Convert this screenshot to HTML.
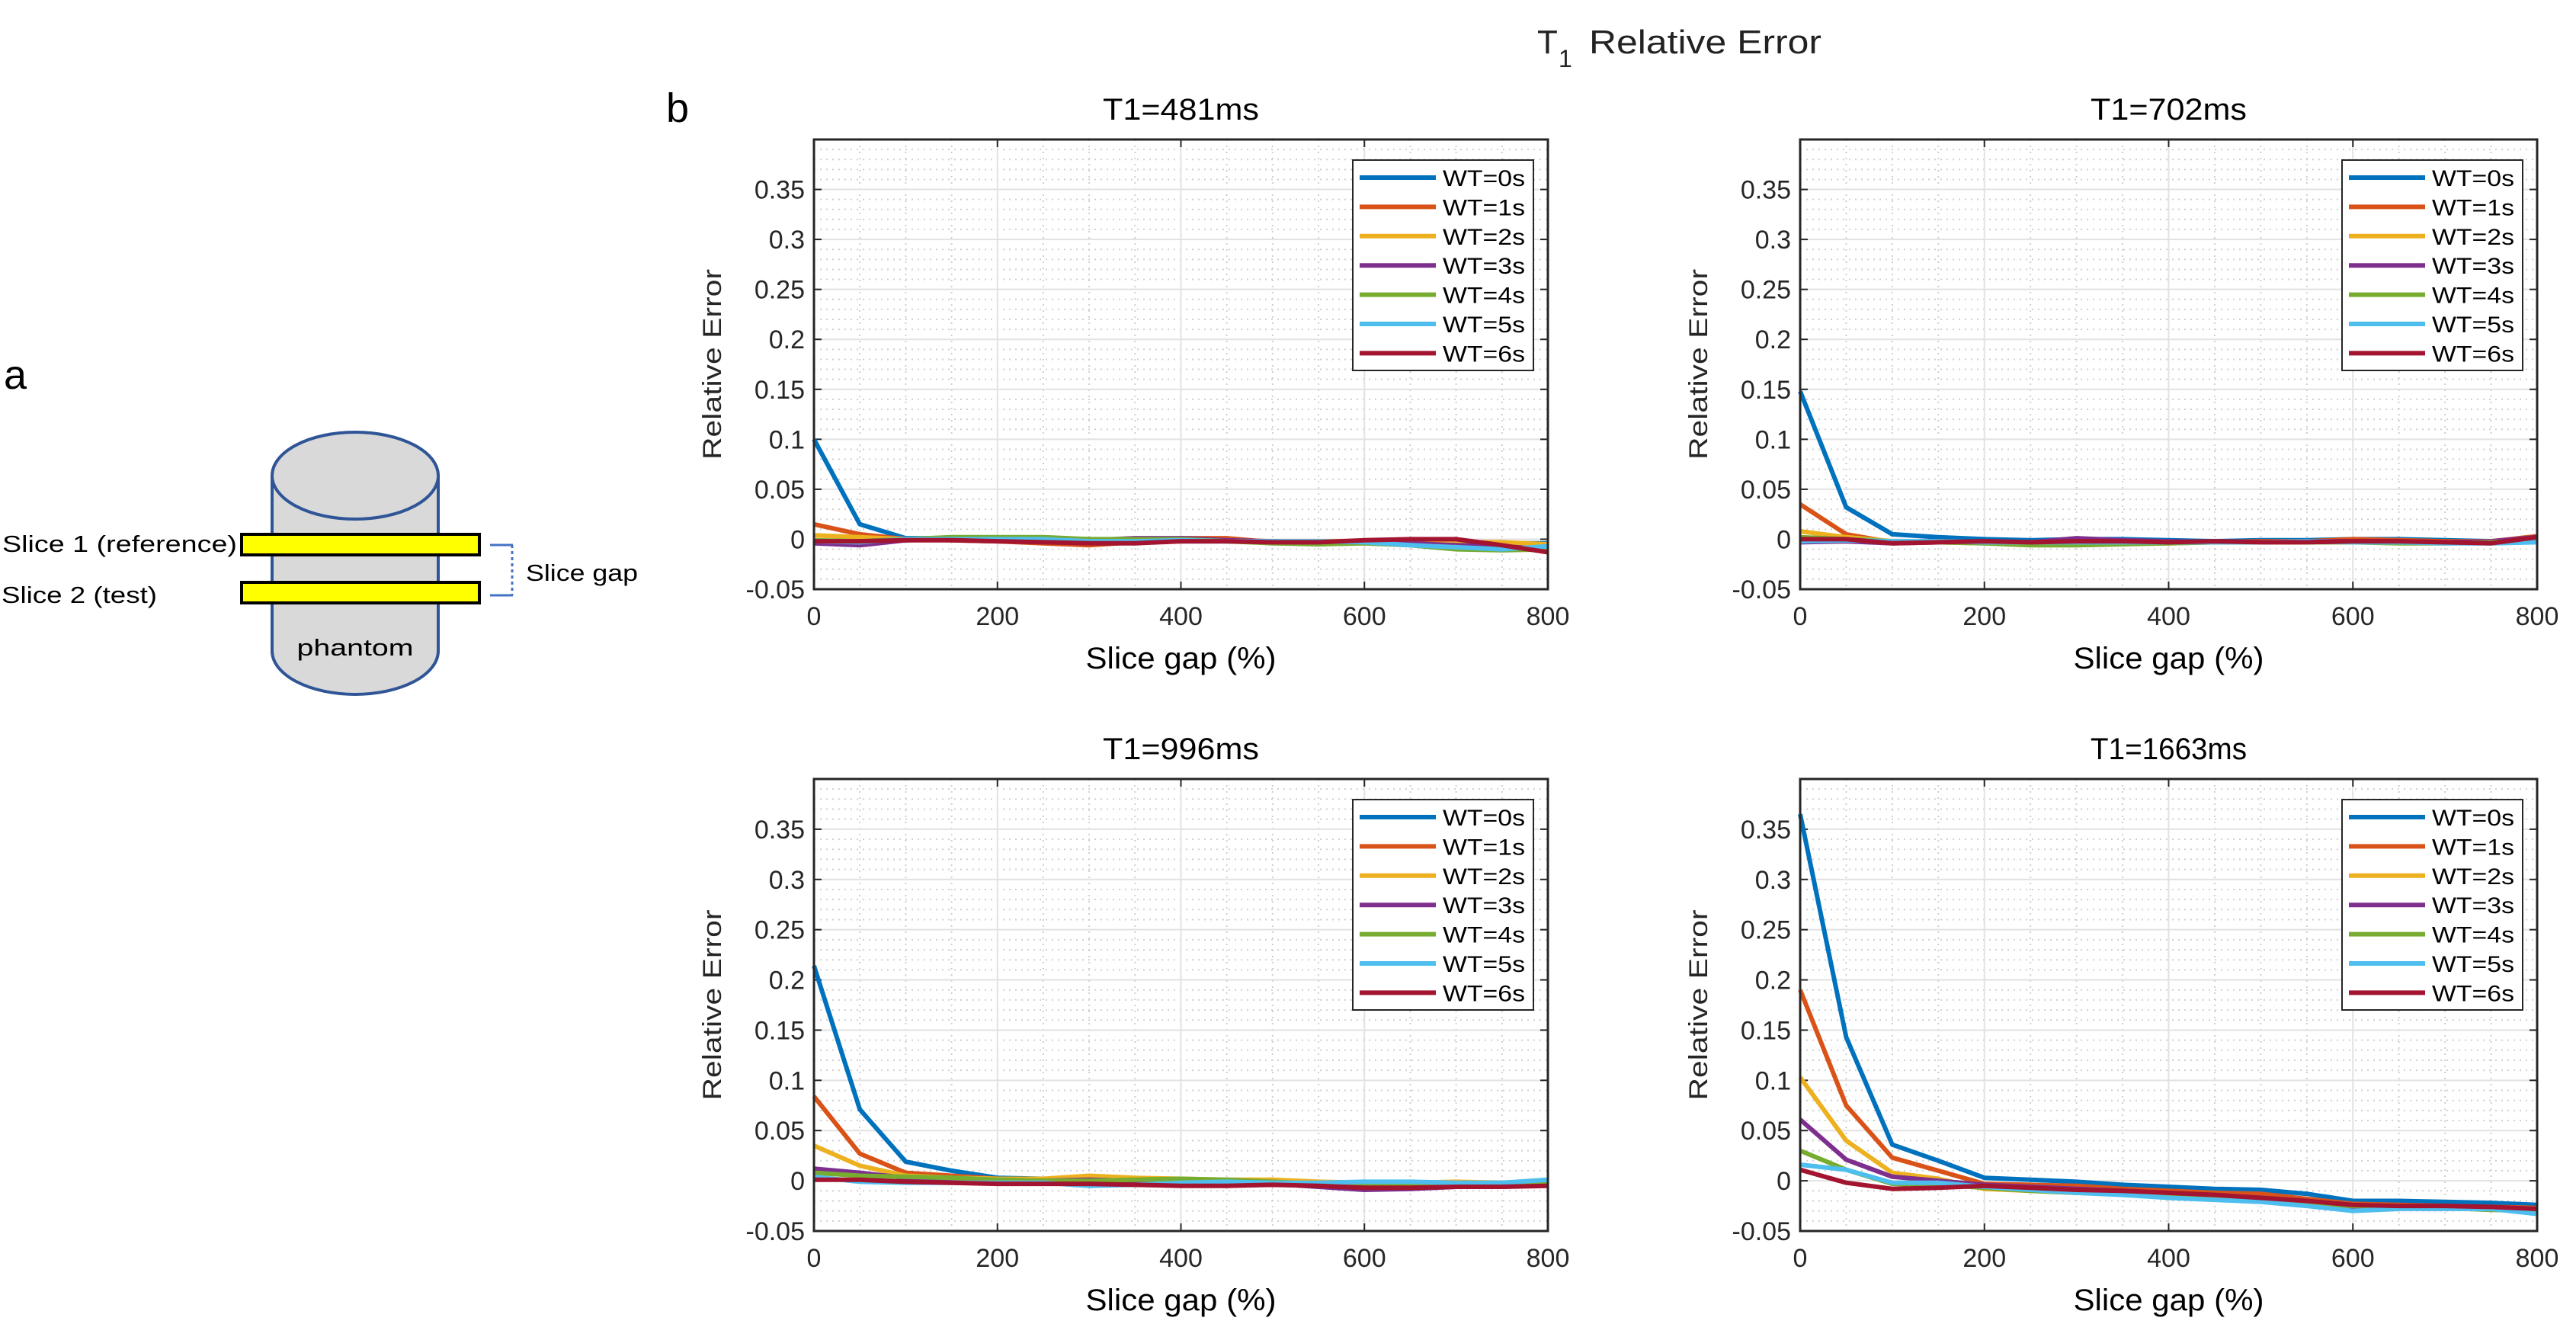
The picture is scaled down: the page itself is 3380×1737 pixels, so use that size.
<!DOCTYPE html>
<html><head><meta charset="utf-8"><style>
html,body{margin:0;padding:0;background:#fff;}
svg{display:block;font-family:"Liberation Sans",sans-serif;}
</style></head><body>
<svg id="fig" width="3380" height="1737" viewBox="0 0 3380 1737" xmlns="http://www.w3.org/2000/svg">
<g id="diagram">
<text x="5" y="510" font-size="54" fill="#000">a</text>
<path d="M357,624 L357,854 A109,57 0 0 0 575,854 L575,624" fill="#d9d9d9" stroke="#2f5597" stroke-width="4"/>
<ellipse cx="466" cy="624" rx="109" ry="57" fill="#d9d9d9" stroke="#2f5597" stroke-width="4"/>
<rect x="317" y="701" width="312" height="27" fill="#ffff00" stroke="#000" stroke-width="4"/>
<rect x="317" y="764" width="312" height="27" fill="#ffff00" stroke="#000" stroke-width="4"/>
<path d="M643,715 L673,715 M643,781 L673,781" stroke="#4472c4" stroke-width="3"/>
<path d="M672,715 L672,781" stroke="#4472c4" stroke-width="3" stroke-dasharray="4,4"/>
<text x="3" y="724" font-size="31" textLength="308" lengthAdjust="spacingAndGlyphs">Slice 1 (reference)</text>
<text x="2" y="791" font-size="31" textLength="204" lengthAdjust="spacingAndGlyphs">Slice 2 (test)</text>
<text x="690" y="762" font-size="31" textLength="147" lengthAdjust="spacingAndGlyphs">Slice gap</text>
<text x="466" y="860" font-size="31" text-anchor="middle" textLength="153" lengthAdjust="spacingAndGlyphs">phantom</text>
</g>
<text x="874" y="160" font-size="54">b</text>
<g>
<text x="2017" y="70" font-size="44" fill="#222">T</text>
<text x="2045" y="88" font-size="32" fill="#222">1</text>
<text x="2085" y="70" font-size="44" fill="#222" textLength="305" lengthAdjust="spacingAndGlyphs">Relative Error</text>
</g>
</svg>
<script>
const xValues = [0,50,100,150,200,250,300,350,400,450,500,550,600,650,700,750,800];
const seriesNames = ['WT=0s','WT=1s','WT=2s','WT=3s','WT=4s','WT=5s','WT=6s'];
const panelTitles = ['T1=481ms','T1=702ms','T1=996ms','T1=1663ms'];
const xTickLabels = [0,200,400,600,800];
const yTickLabels = [-0.05,0,0.05,0.1,0.15,0.2,0.25,0.3,0.35];
const yRange = [-0.05,0.40];
const xRange = [0,800];
const p481 = [
 [0.10,0.015,0.001,0.001,0.001,0.001,0,-0.001,-0.002,-0.002,-0.003,-0.003,-0.003,-0.004,-0.004,-0.004,-0.004],
 [0.015,0.005,0,-0.001,-0.002,-0.004,-0.006,-0.003,0.001,0.001,-0.003,-0.003,-0.003,-0.002,-0.003,-0.005,-0.008],
 [0.004,0.002,0,0.001,0,-0.001,-0.004,-0.002,-0.002,-0.001,-0.002,-0.002,-0.002,-0.002,-0.003,-0.003,-0.005],
 [-0.004,-0.006,-0.001,0,0,0,-0.001,0.001,0.001,-0.001,-0.002,-0.003,-0.003,-0.004,-0.006,-0.007,-0.01],
 [-0.001,-0.002,0,0.002,0.002,0.002,0,0,0,-0.002,-0.004,-0.005,-0.004,-0.006,-0.01,-0.011,-0.01],
 [-0.002,-0.003,0,0,0,0,-0.002,-0.002,-0.001,-0.002,-0.002,-0.002,-0.003,-0.006,-0.008,-0.01,-0.007],
 [-0.002,-0.002,-0.001,-0.001,-0.002,-0.003,-0.004,-0.004,-0.002,-0.002,-0.003,-0.003,-0.001,0,0,-0.006,-0.013]];
const p702 = [
 [0.148,0.032,0.005,0.002,0,-0.001,0,0,-0.001,-0.002,-0.001,-0.001,0,0,-0.001,-0.002,0],
 [0.035,0.005,-0.003,-0.002,-0.003,-0.004,-0.003,-0.003,-0.003,-0.003,-0.002,-0.002,0,-0.001,-0.002,-0.002,0.003],
 [0.008,0.002,-0.002,-0.003,-0.004,-0.005,-0.005,-0.004,-0.004,-0.003,-0.003,-0.003,-0.002,-0.003,-0.003,-0.002,0],
 [-0.003,-0.002,-0.004,-0.003,-0.002,-0.003,0.001,-0.001,-0.002,-0.003,-0.003,-0.002,-0.002,-0.002,-0.003,-0.002,0.002],
 [0.002,0,-0.002,-0.003,-0.004,-0.006,-0.006,-0.005,-0.004,-0.003,-0.003,-0.003,-0.003,-0.004,-0.004,-0.003,-0.001],
 [-0.002,-0.001,-0.002,-0.002,-0.003,-0.003,-0.003,-0.003,-0.003,-0.003,-0.003,-0.002,-0.003,-0.003,-0.004,-0.004,-0.003],
 [0,0,-0.004,-0.003,-0.002,-0.003,-0.002,-0.002,-0.003,-0.002,-0.003,-0.003,-0.002,-0.002,-0.003,-0.004,0.002]];
const p996 = [
 [0.214,0.071,0.019,0.01,0.003,0.002,0.002,0.001,0,0,-0.002,-0.003,-0.004,-0.004,-0.004,-0.004,-0.002],
 [0.084,0.027,0.008,0.005,0.002,0.001,0.001,0.002,0,0,0.001,-0.004,-0.006,-0.006,-0.004,-0.005,-0.003],
 [0.035,0.015,0.005,0.003,0.002,0.002,0.005,0.003,0.002,0.001,0.001,-0.001,-0.002,-0.002,-0.001,-0.002,-0.002],
 [0.012,0.008,0.003,0.001,0,0,0.001,0,-0.002,-0.004,-0.003,-0.006,-0.009,-0.008,-0.006,-0.006,-0.004],
 [0.008,0.005,0.004,0.003,0.001,0,0,0.001,0.002,0.001,-0.001,-0.003,-0.004,-0.004,-0.003,-0.004,-0.003],
 [0.004,-0.001,-0.002,-0.002,-0.002,-0.002,-0.005,-0.004,-0.002,-0.001,-0.002,-0.002,-0.001,-0.001,-0.002,-0.002,0.001],
 [0.001,0.001,-0.001,-0.002,-0.003,-0.003,-0.003,-0.004,-0.005,-0.005,-0.004,-0.005,-0.007,-0.007,-0.006,-0.006,-0.005]];
const p1663 = [
 [0.365,0.143,0.036,0.02,0.003,0.001,-0.001,-0.004,-0.006,-0.008,-0.009,-0.013,-0.02,-0.02,-0.021,-0.022,-0.024],
 [0.19,0.075,0.023,0.01,-0.003,-0.004,-0.005,-0.008,-0.01,-0.012,-0.013,-0.018,-0.023,-0.024,-0.025,-0.026,-0.027],
 [0.103,0.04,0.008,0.002,-0.008,-0.01,-0.012,-0.013,-0.014,-0.015,-0.017,-0.02,-0.024,-0.025,-0.026,-0.027,-0.028],
 [0.061,0.021,0.004,0,-0.004,-0.006,-0.008,-0.01,-0.013,-0.014,-0.017,-0.02,-0.027,-0.026,-0.026,-0.028,-0.03],
 [0.03,0.011,-0.003,-0.004,-0.007,-0.01,-0.012,-0.013,-0.014,-0.016,-0.02,-0.022,-0.025,-0.026,-0.027,-0.029,-0.03],
 [0.016,0.011,-0.002,-0.002,-0.006,-0.009,-0.012,-0.014,-0.017,-0.019,-0.021,-0.025,-0.03,-0.028,-0.028,-0.028,-0.033],
 [0.011,-0.002,-0.008,-0.007,-0.005,-0.007,-0.009,-0.01,-0.012,-0.014,-0.017,-0.02,-0.024,-0.025,-0.025,-0.026,-0.028]];
const panelData = [p481,p702,p996,p1663];

const NS='http://www.w3.org/2000/svg';
const svg=document.getElementById('fig');
const colors=['#0072BD','#D95319','#EDB120','#7E2F8E','#77AC30','#4DBEEE','#A2142F'];
const boxes=[{l:1068,t:183,r:2031,b:773},{l:2362,t:183,r:3329,b:773},{l:1068,t:1022,r:2031,b:1615},{l:2362,t:1022,r:3329,b:1615}];
function mk(tag,attrs,parent){const e=document.createElementNS(NS,tag);for(const k in attrs)e.setAttribute(k,attrs[k]);(parent||svg).appendChild(e);return e;}
function fmt(v){return v===0?'0':String(v);}

panelData.forEach((series,pi)=>{
  const B=boxes[pi];
  const sx=v=>B.l+(v-xRange[0])/(xRange[1]-xRange[0])*(B.r-B.l);
  const sy=v=>B.b-(v-yRange[0])/(yRange[1]-yRange[0])*(B.b-B.t);
  const g=mk('g',{});
  
  
  mk('rect',{x:B.l,y:B.t,width:B.r-B.l,height:B.b-B.t,fill:'#fff'},g);
  for(let xv=50;xv<800;xv+=50){ if(xv%200===0)continue;
    const l=mk('line',{x1:sx(xv),x2:sx(xv),y1:B.t,y2:B.b,stroke:'#d0d0d0','stroke-width':2,'stroke-dasharray':'2,6'},g);
    
    }
  for(let k=-4;k<40;k++){const yv=k/100; if(k%5===0)continue;
    const l=mk('line',{x1:B.l,x2:B.r,y1:sy(yv),y2:sy(yv),stroke:'#d0d0d0','stroke-width':2,'stroke-dasharray':'2,6'},g);
    
    }
  xTickLabels.forEach(xv=>{
    const l=mk('line',{x1:sx(xv),x2:sx(xv),y1:B.t,y2:B.b,stroke:'#e2e2e2','stroke-width':2},g);
    
    
    mk('line',{x1:sx(xv),x2:sx(xv),y1:B.b,y2:B.b-10,stroke:'#262626','stroke-width':2},g);
    mk('line',{x1:sx(xv),x2:sx(xv),y1:B.t,y2:B.t+10,stroke:'#262626','stroke-width':2},g);
    const t=mk('text',{x:sx(xv),y:B.b+47,'font-size':34,'text-anchor':'middle',fill:'#262626'},g);
    t.textContent=xv;
    
    
  });
  yTickLabels.forEach(yv=>{
    const l=mk('line',{x1:B.l,x2:B.r,y1:sy(yv),y2:sy(yv),stroke:'#e2e2e2','stroke-width':2},g);
    
    
    mk('line',{x1:B.l,x2:B.l+10,y1:sy(yv),y2:sy(yv),stroke:'#262626','stroke-width':2},g);
    mk('line',{x1:B.r,x2:B.r-10,y1:sy(yv),y2:sy(yv),stroke:'#262626','stroke-width':2},g);
    const t=mk('text',{x:B.l-12,y:sy(yv)+12,'font-size':34,'text-anchor':'end',fill:'#262626'},g);
    t.textContent=fmt(yv);
    
    
  });
  series.forEach((vals,si)=>{
    const d=vals.map((v,i)=>(i?'L':'M')+sx(xValues[i]).toFixed(1)+','+sy(v).toFixed(1)).join(' ');
    const p=mk('path',{d:d,fill:'none',stroke:colors[si],'stroke-width':6,'stroke-linejoin':'round'},g);
    
    
  });
  const fr=mk('rect',{x:B.l,y:B.t,width:B.r-B.l,height:B.b-B.t,fill:'none',stroke:'#262626','stroke-width':3},g);
  
  
  const lg=mk('g',{},g);
  
  
  const lx=B.r-256, ly=B.t+27;
  mk('rect',{x:lx,y:ly,width:237,height:276,fill:'#fff',stroke:'#262626','stroke-width':2},lg);
  seriesNames.forEach((nm,si)=>{
    const yy=ly+23+si*38.4;
    const e=mk('g',{},lg);
    
    
    mk('line',{x1:lx+9,x2:lx+109,y1:yy,y2:yy,stroke:colors[si],'stroke-width':6},e);
    const t=mk('text',{x:lx+118,y:yy+11,'font-size':30,fill:'#000',textLength:108,lengthAdjust:'spacingAndGlyphs'},e);
    t.textContent=nm;
  });
  const cx=(B.l+B.r)/2;
  const tt=mk('text',{x:cx,y:B.t-26,'font-size':40,'text-anchor':'middle',fill:'#000',textLength:205,lengthAdjust:'spacingAndGlyphs'},g);
  tt.textContent=panelTitles[pi];
  
  
  const xl=mk('text',{x:cx,y:B.b+104,'font-size':40,'text-anchor':'middle',fill:'#000',textLength:250,lengthAdjust:'spacingAndGlyphs'},g);
  xl.textContent='Slice gap (%)';
  
  
  const ymid=(B.t+B.b)/2;
  const yl=mk('text',{x:B.l-122,y:ymid,'font-size':34,'text-anchor':'middle',fill:'#262626',transform:'rotate(-90 '+(B.l-122)+' '+ymid+')',textLength:250,lengthAdjust:'spacingAndGlyphs'},g);
  yl.textContent='Relative Error';
  
  
});
</script>
</body></html>
